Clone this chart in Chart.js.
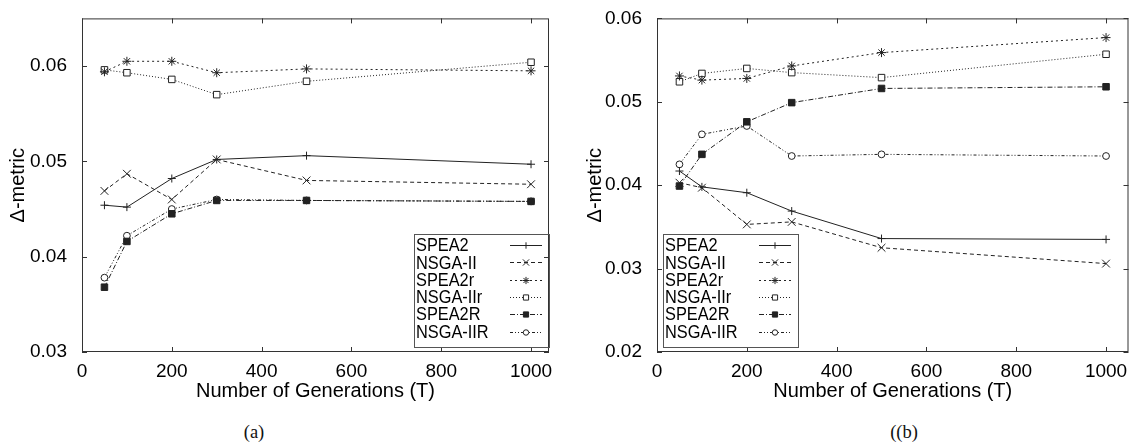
<!DOCTYPE html>
<html lang="en">
  <head>
    <meta charset="UTF-8" />
    <meta name="viewport" content="width=device-width, initial-scale=1.0" />
    <script src="https://cdn.jsdelivr.net/npm/chart.js@4.4.0/dist/chart.umd.min.js"></script>
    <title>Delta-metric vs generations</title>
    <style>
      body {
        margin: 0;
        background: #fff;
        width: 1135px;
        height: 445px;
        position: relative;
        overflow: hidden;
      }
      .panel {
        position: absolute;
        top: 0;
      }
      .caption {
        position: absolute;
        top: 421px;
        font-family: "Liberation Serif", serif;
        font-size: 18.5px;
        line-height: 22px;
        color: #111;
        transform: translateX(-50%);
      }
    </style>
  </head>
  <body>
    <div class="panel" style="left: 0px">
      <canvas id="chartA" width="560" height="410"></canvas>
    </div>
    <div class="panel" style="left: 560px">
      <canvas id="chartB" width="575" height="410"></canvas>
    </div>
    <div class="caption" style="left: 254px">(a)</div>
    <div class="caption" style="left: 904px">((b)</div>

    <script>
      // x values (number of generations T)
      const generations = [50, 100, 200, 300, 500, 1000];
      const seriesNames = ["SPEA2", "NSGA-II", "SPEA2r", "NSGA-IIr", "SPEA2R", "NSGA-IIR"];

      // panel (a)
      const spea2A = [0.0454, 0.0452, 0.0482, 0.0502, 0.0506, 0.0497];
      const nsga2A = [0.0469, 0.0487, 0.046, 0.0502, 0.048, 0.0476];
      const spea2rA = [0.0594, 0.0605, 0.0605, 0.0593, 0.0597, 0.0595];
      const nsga2rA = [0.0596, 0.0593, 0.0586, 0.057, 0.0584, 0.0604];
      const spea2RA = [0.0368, 0.0416, 0.0445, 0.0459, 0.0459, 0.0458];
      const nsga2RA = [0.0378, 0.0422, 0.045, 0.046, 0.0459, 0.0458];

      // panel (b)
      const spea2B = [0.0417, 0.0398, 0.0391, 0.0369, 0.0336, 0.0335];
      const nsga2B = [0.0403, 0.0397, 0.0353, 0.0356, 0.0325, 0.0306];
      const spea2rB = [0.0531, 0.0526, 0.0528, 0.0543, 0.0559, 0.0577];
      const nsga2rB = [0.0524, 0.0534, 0.054, 0.0535, 0.0529, 0.0557];
      const spea2RB = [0.0399, 0.0437, 0.0476, 0.0499, 0.0516, 0.0518];
      const nsga2RB = [0.0425, 0.0461, 0.0471, 0.0435, 0.0437, 0.0435];

      const xTickValues = [0, 200, 400, 600, 800, 1000];

      const ink = "#222";
      const fontFamily = "'Liberation Sans', Arial, sans-serif";

      // gnuplot-ish line types, one per series
      const lineStyles = [
        { dash: [], point: "cross", radius: 4, fill: ink },
        { dash: [4, 3], point: "crossRot", radius: 5.5, fill: ink },
        { dash: [2, 3], point: "star", radius: 4.5, fill: ink },
        { dash: [1, 2], point: "rect", radius: 4.6, fill: "#fff" },
        { dash: [5, 2, 1, 2], point: "rect", radius: 4.6, fill: ink },
        { dash: [3, 2, 1, 2, 1, 2], point: "circle", radius: 3.4, fill: "#fff" },
      ];

      function makeDatasets(valueLists) {
        return valueLists.map(function (vals, i) {
          var st = lineStyles[i];
          return {
            label: seriesNames[i],
            data: generations.map(function (g, j) {
              return { x: g, y: vals[j] };
            }),
            borderColor: ink,
            borderWidth: 1,
            borderDash: st.dash,
            pointStyle: st.point,
            pointRadius: st.radius,
            pointBorderColor: ink,
            pointBorderWidth: 1,
            pointBackgroundColor: st.fill,
            tension: 0,
          };
        });
      }

      // box + inward tick marks on all four sides
      const framePlugin = {
        id: "frame",
        beforeDatasetsDraw(chart) {
          const ctx = chart.ctx;
          const a = chart.chartArea;
          const xs = chart.scales.x;
          const ys = chart.scales.y;
          ctx.save();
          ctx.strokeStyle = "#333";
          ctx.lineWidth = 1;
          ctx.setLineDash([]);
          ctx.strokeRect(a.left + 0.5, a.top + 0.5, a.right - a.left - 1, a.bottom - a.top - 1);
          ctx.beginPath();
          xs.ticks.forEach(function (t) {
            var px = Math.round(xs.getPixelForValue(t.value)) + 0.5;
            ctx.moveTo(px, a.bottom);
            ctx.lineTo(px, a.bottom - 5);
            ctx.moveTo(px, a.top);
            ctx.lineTo(px, a.top + 5);
          });
          ys.ticks.forEach(function (t) {
            var py = Math.round(ys.getPixelForValue(t.value)) + 0.5;
            ctx.moveTo(a.left, py);
            ctx.lineTo(a.left + 5, py);
            ctx.moveTo(a.right, py);
            ctx.lineTo(a.right - 5, py);
          });
          ctx.stroke();
          ctx.restore();
        },
      };

      function drawMarker(ctx, ds, x, y) {
        ctx.setLineDash([]);
        ctx.strokeStyle = ds.pointBorderColor;
        ctx.fillStyle = ds.pointBackgroundColor;
        ctx.lineWidth = 1;
        if (Chart.helpers && Chart.helpers.drawPoint) {
          Chart.helpers.drawPoint(
            ctx,
            { pointStyle: ds.pointStyle, radius: ds.pointRadius * 0.8, rotation: 0, borderWidth: 1 },
            x,
            y
          );
        } else {
          ctx.fillRect(x - 2, y - 2, 4, 4);
        }
      }

      // gnuplot style key: name on the left, line sample on the right
      const boxLegendPlugin = {
        id: "boxLegend",
        afterDraw(chart, args, opts) {
          const ctx = chart.ctx;
          const a = chart.chartArea;
          const w = 135;
          const h = 113;
          const left = opts.side === "right" ? a.right - w : a.left + 6;
          const top = a.bottom - 5 - h;
          ctx.save();
          ctx.strokeStyle = "#555";
          ctx.lineWidth = 1;
          ctx.setLineDash([]);
          ctx.strokeRect(Math.round(left) + 0.5, Math.round(top) + 0.5, w, h);
          chart.data.datasets.forEach(function (ds, i) {
            var cy = top + 11 + i * 17.3;
            // text, slightly condensed like the original
            ctx.save();
            ctx.translate(left + 2, cy);
            ctx.scale(0.86, 1);
            ctx.fillStyle = "#000";
            ctx.font = "19px " + fontFamily;
            ctx.textBaseline = "middle";
            ctx.textAlign = "left";
            ctx.fillText(ds.label, 0, 1);
            ctx.restore();
            // sample line
            var x0 = left + 96;
            var x1 = left + 128;
            var ly = Math.round(cy) + 0.5;
            ctx.strokeStyle = ink;
            ctx.lineWidth = 1;
            ctx.setLineDash(ds.borderDash);
            ctx.beginPath();
            ctx.moveTo(x0, ly);
            ctx.lineTo(x1, ly);
            ctx.stroke();
            drawMarker(ctx, ds, (x0 + x1) / 2, ly);
          });
          ctx.restore();
        },
      };

      function generateGraph(canvasId, valueLists, opt) {
        var ctx = document.getElementById(canvasId);
        var config = {
          type: "line",
          data: { datasets: makeDatasets(valueLists) },
          options: {
            responsive: false,
            animation: false,
            events: [],
            layout: { padding: { top: 11, right: opt.padRight, left: 0, bottom: 0 } },
            plugins: {
              legend: { display: false },
              tooltip: { enabled: false },
              boxLegend: { side: opt.legendSide },
            },
            scales: {
              x: {
                type: "linear",
                min: 0,
                max: opt.xMax,
                grid: { display: false },
                border: { display: false },
                afterBuildTicks: function (scale) {
                  scale.ticks = xTickValues.map(function (v) {
                    return { value: v };
                  });
                },
                afterFit: function (scale) {
                  scale.height = 58;
                },
                ticks: {
                  color: "#000",
                  padding: 0,
                  maxRotation: 0,
                  font: { family: fontFamily, size: 19 },
                  callback: function (v) {
                    return String(v);
                  },
                },
                title: {
                  display: true,
                  text: "Number of Generations (T)",
                  color: "#000",
                  font: { family: fontFamily, size: 20 },
                  padding: { top: 0, bottom: 7 },
                },
              },
              y: {
                min: opt.yMin,
                max: opt.yMax,
                grid: { display: false },
                border: { display: false },
                afterBuildTicks: function (scale) {
                  scale.ticks = opt.yTicks.map(function (v) {
                    return { value: v };
                  });
                },
                afterFit: function (scale) {
                  scale.width = opt.yWidth;
                },
                ticks: {
                  color: "#000",
                  padding: 7,
                  font: { family: fontFamily, size: 19 },
                  callback: function (v) {
                    return v.toFixed(2);
                  },
                },
                title: {
                  display: true,
                  text: "\u0394-metric",
                  color: "#000",
                  font: { family: fontFamily, size: 20 },
                  padding: { top: opt.yTitlePad, bottom: 0 },
                },
              },
            },
          },
          plugins: [framePlugin, boxLegendPlugin],
        };
        return new Chart(ctx, config);
      }

      generateGraph("chartA", [spea2A, nsga2A, spea2rA, nsga2rA, spea2RA, nsga2RA], {
        xMax: 1040,
        yMin: 0.03,
        yMax: 0.065,
        yTicks: [0.03, 0.04, 0.05, 0.06],
        yWidth: 82,
        yTitlePad: 6,
        padRight: 11,
        legendSide: "right",
      });

      generateGraph("chartB", [spea2B, nsga2B, spea2rB, nsga2rB, spea2RB, nsga2RB], {
        xMax: 1050,
        yMin: 0.02,
        yMax: 0.06,
        yTicks: [0.02, 0.03, 0.04, 0.05, 0.06],
        yWidth: 97,
        yTitlePad: 23,
        padRight: 5,
        legendSide: "left",
      });
    </script>
  </body>
</html>
